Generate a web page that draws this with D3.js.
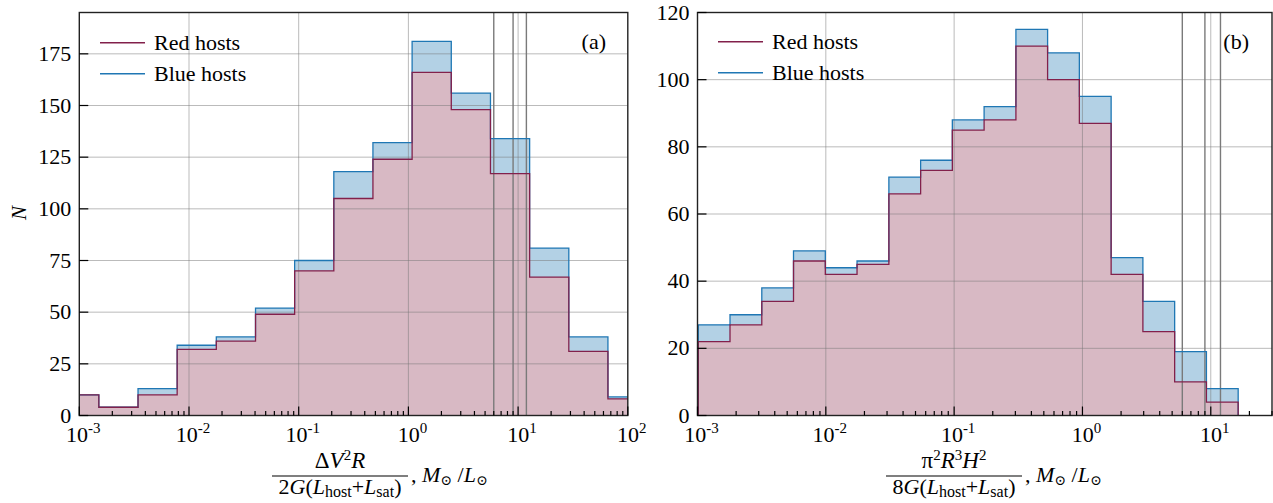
<!DOCTYPE html>
<html>
<head>
<meta charset="utf-8">
<script src="https://cdn.jsdelivr.net/npm/d3@7"></script>
<style>
  body { margin: 0; background: #fff; }
  svg text { font-family: 'Liberation Serif', Tinos, 'DejaVu Serif', serif; fill: #000; }
</style>
</head>
<body>
<svg id="fig" width="1273" height="503" font-family="Liberation Serif"></svg>
<script>
// panel (a): bin edges and counts
const edgesA = [6.62e-4, 1.507e-3, 3.43e-3, 7.80e-3, 1.774e-2, 4.04e-2, 9.18e-2, 0.209, 0.475, 1.081, 2.46, 5.60, 12.74, 29.0, 65.9, 150];
const redA  = [10, 4, 10, 32, 36, 49, 70, 105, 124, 166, 148, 117, 67, 31, 8];
const blueA = [10, 4, 13, 34, 38, 52, 75, 118, 132, 181, 156, 134, 81, 38, 9];

// panel (b)
const edgesB = [1.014e-3, 1.792e-3, 3.17e-3, 5.60e-3, 9.91e-3, 1.751e-2, 3.10e-2, 5.48e-2, 9.68e-2, 0.1712, 0.303, 0.535, 0.946, 1.673, 2.958, 5.23, 9.25, 16.35];
const redB  = [22, 27, 34, 46, 42, 45, 66, 73, 85, 88, 110, 100, 87, 42, 25, 10, 4];
const blueB = [27, 30, 38, 49, 44, 46, 71, 76, 88, 92, 115, 108, 95, 47, 34, 19, 8];

// vertical marker lines (same in both panels)
const markers = [6.0, 9.0, 11.9];

const yTicksA = [0, 25, 50, 75, 100, 125, 150, 175];
const yTicksB = [0, 20, 40, 60, 80, 100, 120];
const xExpA = [-3, -2, -1, 0, 1, 2];
const xExpB = [-3, -2, -1, 0, 1];
const seriesNames = ["Red hosts", "Blue hosts"];

const RED = "#82204b", RED_FILL = "#d8b9c4";
const BLUE = "#1f77b4", BLUE_FILL = "rgba(31,119,180,0.34)";
const FONT = "'Liberation Serif', Tinos, 'DejaVu Serif', serif";

const svg = d3.select("#fig");

function txt(sel) {
  return sel.append("text").attr("font-family", FONT);
}

function drawPanel(p) {
  const x = d3.scaleLog().domain(p.xDomain).range([p.left, p.right]);
  const y = d3.scaleLinear().domain([0, p.yMax]).range([p.bottom, p.top]);
  const g = svg.append("g");

  g.append("clipPath").attr("id", p.id + "clip")
    .append("rect")
    .attr("x", p.left).attr("y", p.top)
    .attr("width", p.right - p.left).attr("height", p.bottom - p.top);

  const plot = g.append("g").attr("clip-path", `url(#${p.id}clip)`);

  const stepPath = (edges, counts) => {
    const pts = [[edges[0], 0]];
    counts.forEach((c, i) => pts.push([edges[i], c]));
    pts.push([edges[edges.length - 1], 0]);
    return d3.line().x(d => x(d[0])).y(d => y(d[1])).curve(d3.curveStepAfter)(pts);
  };

  // fills
  plot.append("path").attr("d", stepPath(p.edges, p.blue) + "Z").attr("fill", BLUE_FILL);
  plot.append("path").attr("d", stepPath(p.edges, p.red) + "Z").attr("fill", RED_FILL);

  // grid
  const gridCol = "rgba(120,120,120,0.5)";
  p.xExp.forEach(e => {
    const v = Math.pow(10, e);
    if (v > p.xDomain[0] && v < p.xDomain[1])
      plot.append("line").attr("x1", x(v)).attr("x2", x(v)).attr("y1", p.top).attr("y2", p.bottom)
        .attr("stroke", gridCol).attr("stroke-width", 1);
  });
  p.yTicks.forEach(t => {
    if (t > 0 && t < p.yMax)
      plot.append("line").attr("x1", p.left).attr("x2", p.right).attr("y1", y(t)).attr("y2", y(t))
        .attr("stroke", gridCol).attr("stroke-width", 1);
  });

  // marker lines
  markers.forEach(m => {
    plot.append("line").attr("x1", x(m)).attr("x2", x(m)).attr("y1", p.top).attr("y2", p.bottom)
      .attr("stroke", "#7a7a7a").attr("stroke-width", 1.4);
  });

  // outlines
  plot.append("path").attr("d", stepPath(p.edges, p.blue)).attr("fill", "none")
    .attr("stroke", BLUE).attr("stroke-width", 1.3);
  plot.append("path").attr("d", stepPath(p.edges, p.red)).attr("fill", "none")
    .attr("stroke", RED).attr("stroke-width", 1.3);

  // frame
  g.append("rect").attr("x", p.left).attr("y", p.top)
    .attr("width", p.right - p.left).attr("height", p.bottom - p.top)
    .attr("fill", "none").attr("stroke", "#222").attr("stroke-width", 1.4);

  // y ticks
  p.yTicks.forEach(t => {
    g.append("line").attr("x1", p.left).attr("x2", p.left + 9).attr("y1", y(t)).attr("y2", y(t))
      .attr("stroke", "#000").attr("stroke-width", 1.2);
    txt(g).attr("x", p.left - 8).attr("y", y(t) + 7)
      .attr("text-anchor", "end").attr("font-size", 22).text(t);
  });

  // x ticks, major and minor
  const lo = Math.floor(Math.log10(p.xDomain[0])), hi = Math.ceil(Math.log10(p.xDomain[1]));
  for (let e = lo; e <= hi; e++) {
    for (let m = 1; m < 10; m++) {
      const v = m * Math.pow(10, e);
      if (v < p.xDomain[0] * 0.999 || v > p.xDomain[1] * 1.001) continue;
      const len = m === 1 ? 9 : 4.5;
      g.append("line").attr("x1", x(v)).attr("x2", x(v)).attr("y1", p.bottom).attr("y2", p.bottom - len)
        .attr("stroke", "#000").attr("stroke-width", 1.2);
    }
  }
  p.xExp.forEach(e => {
    const t = txt(g).attr("x", x(Math.pow(10, e)) + 4).attr("y", p.bottom + 26)
      .attr("text-anchor", "middle").attr("font-size", 22);
    t.append("tspan").text("10");
    t.append("tspan").attr("dy", -9).attr("font-size", 15).text(String(e));
  });

  // legend
  [[RED, 0], [BLUE, 1]].forEach(([c, i]) => {
    const ly = p.legendY + i * 31;
    g.append("line").attr("x1", p.legendX).attr("x2", p.legendX + 45).attr("y1", ly).attr("y2", ly)
      .attr("stroke", c).attr("stroke-width", 1.5);
    txt(g).attr("x", p.legendX + 54).attr("y", ly + 7)
      .attr("font-size", 22).text(seriesNames[i]);
  });

  txt(g).attr("x", p.tagX).attr("y", 49).attr("text-anchor", "end")
    .attr("font-size", 22).text(p.tag);

  // x label: fraction + units
  const lab = svg.append("g");
  const num = txt(lab).attr("x", p.fracCx).attr("y", 468).attr("text-anchor", "middle").attr("font-size", 23);
  p.num(num);
  lab.append("line").attr("x1", p.fracCx - p.fracW / 2).attr("x2", p.fracCx + p.fracW / 2)
    .attr("y1", 476).attr("y2", 476).attr("stroke", "#000").attr("stroke-width", 1.1);
  const den = txt(lab).attr("x", p.fracCx).attr("y", 494).attr("text-anchor", "middle").attr("font-size", 22);
  den.append("tspan").text(p.denLead);
  den.append("tspan").attr("font-style", "italic").text("G");
  den.append("tspan").text("(");
  den.append("tspan").attr("font-style", "italic").text("L");
  den.append("tspan").attr("dy", 3).attr("font-size", 16).text("host");
  den.append("tspan").attr("dy", -3).text("+");
  den.append("tspan").attr("font-style", "italic").text("L");
  den.append("tspan").attr("dy", 3).attr("font-size", 16).text("sat");
  den.append("tspan").attr("dy", -3).text(")");

  const unit = txt(lab).attr("x", p.fracCx + p.fracW / 2 + 3).attr("y", 482).attr("font-size", 22);
  unit.append("tspan").text(", ");
  unit.append("tspan").attr("font-style", "italic").text("M");
  unit.append("tspan").attr("dy", 3).attr("font-size", 14).text("\u2299");
  unit.append("tspan").attr("dy", -3).text(" /");
  unit.append("tspan").attr("font-style", "italic").text("L");
  unit.append("tspan").attr("dy", 3).attr("font-size", 14).text("\u2299");
}

drawPanel({
  id: "a", left: 79.3, right: 627.8, top: 12.5, bottom: 415.5,
  xDomain: [1e-3, 1e2], yMax: 195, yTicks: yTicksA, xExp: xExpA,
  edges: edgesA, red: redA, blue: blueA,
  legendX: 100, legendY: 42.7, tag: "(a)", tagX: 606,
  fracCx: 340, fracW: 136, denLead: "2",
  num: t => {
    t.append("tspan").text("\u0394");
    t.append("tspan").attr("font-style", "italic").text("V");
    t.append("tspan").attr("dy", -8).attr("font-size", 15).text("2");
    t.append("tspan").attr("dy", 8).attr("font-style", "italic").text("R");
  }
});

drawPanel({
  id: "b", left: 697.5, right: 1272, top: 12.5, bottom: 415.5,
  xDomain: [1e-3, 30], yMax: 120, yTicks: yTicksB, xExp: xExpB,
  edges: edgesB, red: redB, blue: blueB,
  legendX: 718, legendY: 41.7, tag: "(b)", tagX: 1249,
  fracCx: 954, fracW: 136, denLead: "8",
  num: t => {
    t.append("tspan").text("\u03c0");
    t.append("tspan").attr("dy", -8).attr("font-size", 15).text("2");
    t.append("tspan").attr("dy", 8).attr("font-style", "italic").text("R");
    t.append("tspan").attr("dy", -8).attr("font-size", 15).text("3");
    t.append("tspan").attr("dy", 8).attr("font-style", "italic").text("H");
    t.append("tspan").attr("dy", -8).attr("font-size", 15).text("2");
  }
});

// y axis label
txt(svg).attr("transform", "translate(26,213) rotate(-90)")
  .attr("text-anchor", "middle").attr("font-size", 21).attr("font-style", "italic").text("N");
</script>
</body>
</html>
